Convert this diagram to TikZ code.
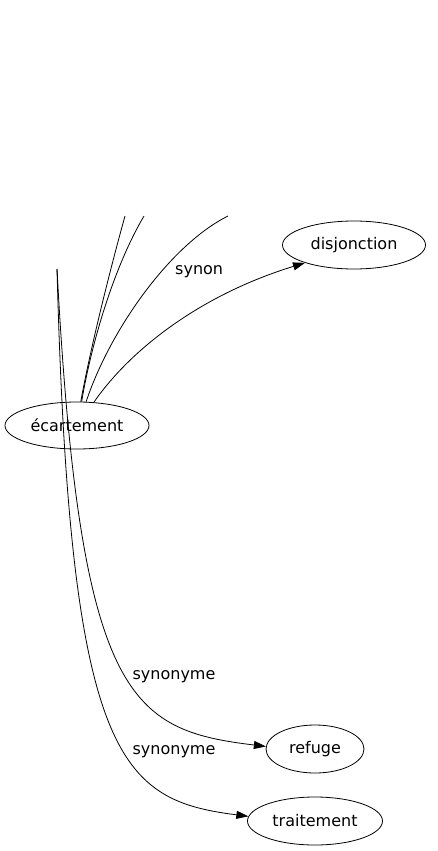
\documentclass[tikz,border=0pt]{standalone}
\usepackage{fontspec}
\setmainfont{DejaVu Sans}
\usetikzlibrary{shapes.geometric,arrows.meta}
\begin{document}
\begin{tikzpicture}[x=1pt,y=-1pt,
  nd/.style={draw,ellipse,inner sep=0pt,line width=0.8pt,font=\fontsize{16}{19}\selectfont},
  lbl/.style={font=\fontsize{16}{19}\selectfont,inner sep=0pt},
  edge/.style={line width=0.8pt},
  arr/.style={edge,-{Triangle[length=12pt,width=8pt]}}]
\useasboundingbox (0,0) rectangle (438,851);
\node[nd,minimum width=144pt,minimum height=47pt] (ecart) at (77,425.5) {écartement};
\node[nd,minimum width=143pt,minimum height=48pt] (disj) at (354,245) {disjonction};
\node[nd,minimum width=98pt,minimum height=48pt] (ref) at (315,749) {refuge};
\node[nd,minimum width=135pt,minimum height=48pt] (trait) at (315,821) {traitement};
\coordinate (t1) at (125,216);
\coordinate (t2) at (144,216);
\coordinate (t3) at (228,216);
\coordinate (s) at (57,269);
\draw[edge] (t1) .. controls (110,270) and (90,350) .. (ecart.81);
\draw[edge] (t2) .. controls (115,265) and (92,340) .. (ecart.79);
\draw[edge] (t3) .. controls (170,245) and (110,330) .. (ecart.69);
\draw[arr] (ecart.54) .. controls (130,350) and (200,295) .. (disj.200);
\draw[arr] (s) .. controls (80,700) and (130,730) .. (ref.177);
\draw[arr] (s) .. controls (70,760) and (120,800) .. (trait.176);
\node[lbl,anchor=west] (l1) at (175,272) {synon};
\node[lbl] (l2) at (174,677) {synonyme};
\node[lbl] (l3) at (174,752) {synonyme};
\end{tikzpicture}
\end{document}
